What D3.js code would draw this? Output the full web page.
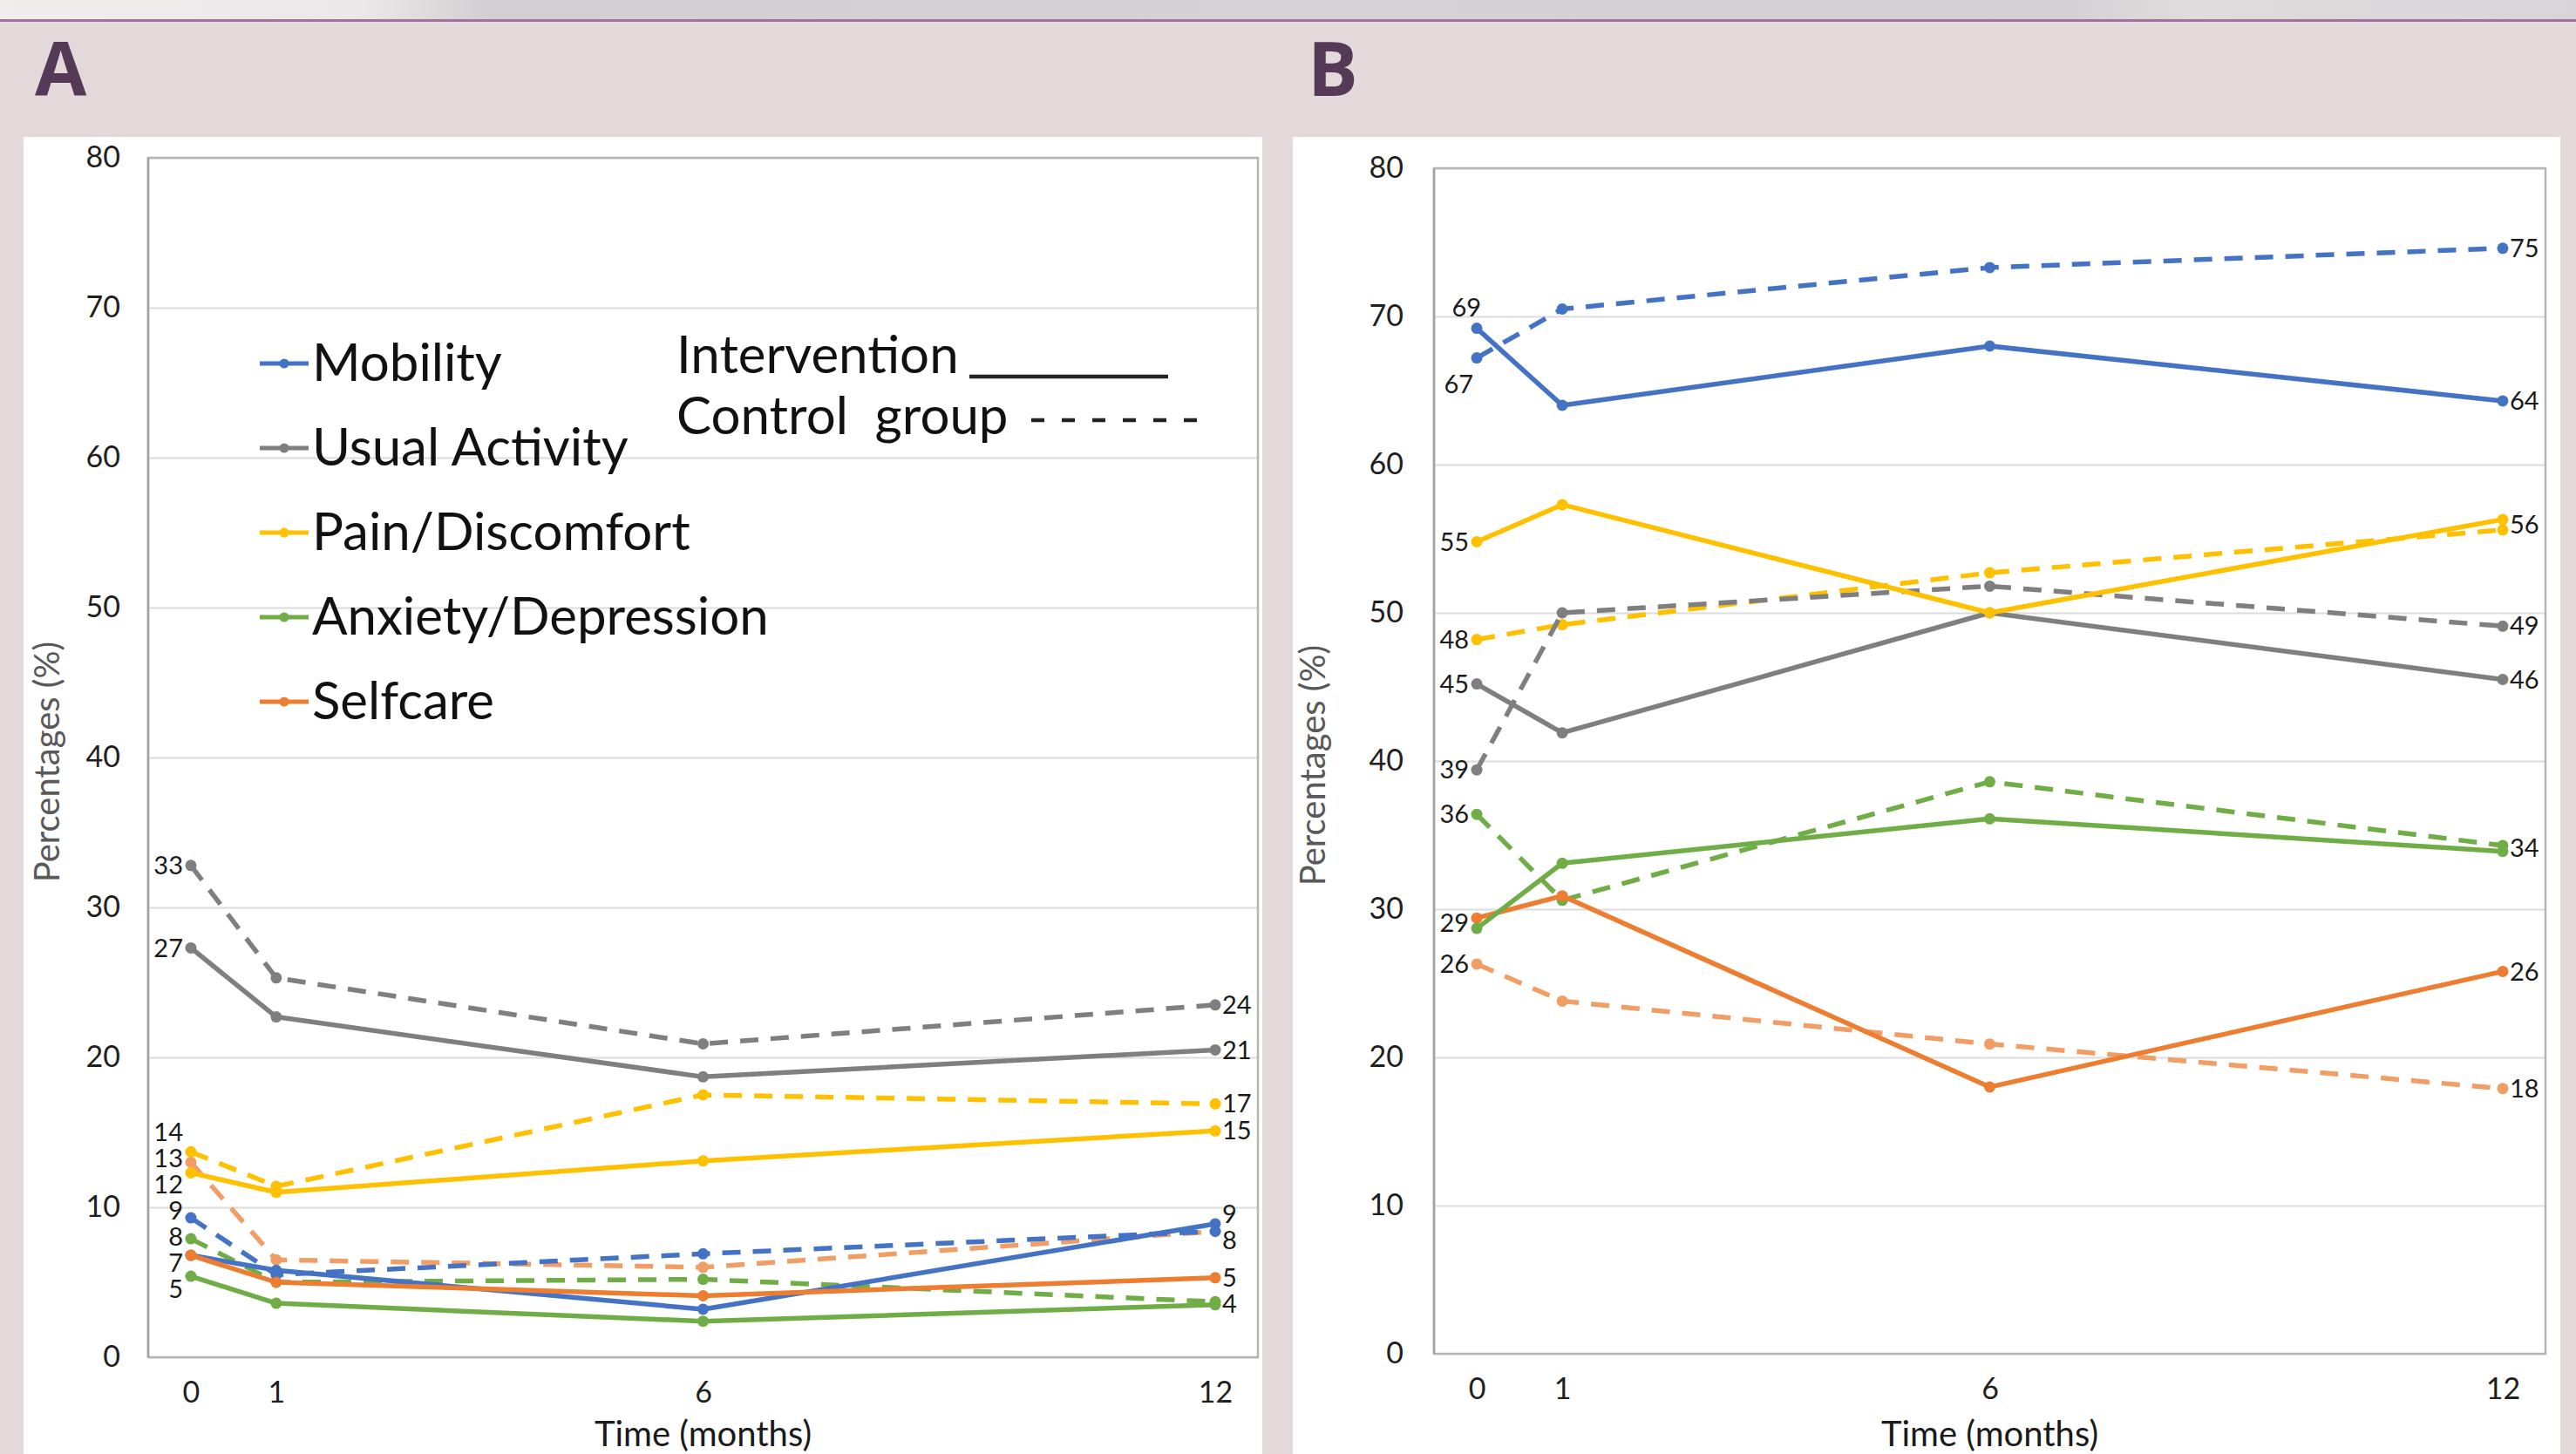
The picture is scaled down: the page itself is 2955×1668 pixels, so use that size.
<!DOCTYPE html>
<html>
<head>
<meta charset="utf-8">
<script src="https://cdn.jsdelivr.net/npm/d3@7"></script>
<style>
  html, body { margin: 0; padding: 0; background: #e3d9da; }
  svg { display: block; }
</style>
</head>
<body>
<svg id="chart" width="2955" height="1668"></svg>
<script>
// ---------------- DATA ----------------
const months = [0, 1, 6, 12];
const yTicks = [0, 10, 20, 30, 40, 50, 60, 70, 80];
const dimensions = ["Mobility", "Usual Activity", "Pain/Discomfort", "Anxiety/Depression", "Selfcare"];
const groupLabels = ["Intervention", "Control  group"];
const panelLetters = ["A", "B"];
const xTitle = "Time (months)";
const yTitle = "Percentages (%)";

// Panel A – intervention (solid) and control (dashed)
const aIntMobility = [6.8, 5.8, 3.2, 8.9];
const aCtlMobility = [9.3, 5.5, 6.9, 8.4];
const aIntUsual    = [27.3, 22.7, 18.7, 20.5];
const aCtlUsual    = [32.8, 25.3, 20.9, 23.5];
const aIntPain     = [12.3, 11.0, 13.1, 15.1];
const aCtlPain     = [13.7, 11.4, 17.5, 16.9];
const aIntAnxiety  = [5.4, 3.6, 2.4, 3.5];
const aCtlAnxiety  = [7.9, 5.0, 5.2, 3.7];
const aIntSelfcare = [6.8, 5.0, 4.1, 5.3];
const aCtlSelfcare = [13.0, 6.5, 6.0, 8.4];

// Panel B
const bIntMobility = [69.2, 64.0, 68.0, 64.3];
const bCtlMobility = [67.2, 70.5, 73.3, 74.6];
const bIntUsual    = [45.2, 41.9, 50.0, 45.5];
const bCtlUsual    = [39.4, 50.0, 51.8, 49.1];
const bIntPain     = [54.8, 57.3, 50.0, 56.3];
const bCtlPain     = [48.2, 49.2, 52.7, 55.6];
const bIntAnxiety  = [28.7, 33.1, 36.1, 33.9];
const bCtlAnxiety  = [36.4, 30.6, 38.6, 34.3];
const bIntSelfcare = [29.4, 30.9, 18.0, 25.8];
const bCtlSelfcare = [26.3, 23.8, 20.9, 17.9];

// ---------------- STYLE ----------------
const solidColors  = { "Mobility": "#4472C4", "Usual Activity": "#7F7F7F", "Pain/Discomfort": "#FFC000", "Anxiety/Depression": "#70AD47", "Selfcare": "#ED7D31" };
const dashedColors = { "Mobility": "#4472C4", "Usual Activity": "#7F7F7F", "Pain/Discomfort": "#FFC000", "Anxiety/Depression": "#70AD47", "Selfcare": "#F19E66" };
const FONT = "Lato, 'Open Sans', sans-serif";

const panelASeries = [
  { dim: "Selfcare", group: 1, values: aCtlSelfcare },
  { dim: "Anxiety/Depression", group: 1, values: aCtlAnxiety },
  { dim: "Mobility", group: 1, values: aCtlMobility },
  { dim: "Pain/Discomfort", group: 1, values: aCtlPain },
  { dim: "Usual Activity", group: 1, values: aCtlUsual },
  { dim: "Usual Activity", group: 0, values: aIntUsual },
  { dim: "Pain/Discomfort", group: 0, values: aIntPain },
  { dim: "Mobility", group: 0, values: aIntMobility },
  { dim: "Selfcare", group: 0, values: aIntSelfcare },
  { dim: "Anxiety/Depression", group: 0, values: aIntAnxiety }
];
const panelBSeries = [
  { dim: "Selfcare", group: 1, values: bCtlSelfcare },
  { dim: "Anxiety/Depression", group: 1, values: bCtlAnxiety },
  { dim: "Mobility", group: 1, values: bCtlMobility },
  { dim: "Pain/Discomfort", group: 1, values: bCtlPain },
  { dim: "Usual Activity", group: 1, values: bCtlUsual },
  { dim: "Usual Activity", group: 0, values: bIntUsual },
  { dim: "Pain/Discomfort", group: 0, values: bIntPain },
  { dim: "Mobility", group: 0, values: bIntMobility },
  { dim: "Selfcare", group: 0, values: bIntSelfcare },
  { dim: "Anxiety/Depression", group: 0, values: bIntAnxiety }
];

const svg = d3.select("#chart");

// ---------------- BACKGROUND ----------------
const defs = svg.append("defs");
const grad = defs.append("linearGradient").attr("id", "hdr").attr("x1", "0").attr("x2", "1").attr("y1", "0").attr("y2", "0");
[[0, "#f0eded"], [0.14, "#ebe8e9"], [0.19, "#d2cfd2"], [0.5, "#d6d3d6"], [0.8, "#d4d1d4"], [0.85, "#dfdcde"], [1, "#d8d5d8"]]
  .forEach(([o, c]) => grad.append("stop").attr("offset", o).attr("stop-color", c));
svg.append("rect").attr("x", 0).attr("y", 0).attr("width", 2955).attr("height", 22).attr("fill", "url(#hdr)");
svg.append("rect").attr("x", 0).attr("y", 22).attr("width", 2955).attr("height", 3).attr("fill", "#a0729f");

// ---------------- LABEL DODGE ----------------
function dodge(items, gap) {
  items.sort((a, b) => a.y - b.y);
  let groups = items.map(d => ({ items: [d] }));
  const mean = g => d3.mean(g.items, d => d.y);
  let changed = true;
  while (changed) {
    changed = false;
    for (let i = 0; i < groups.length - 1; i++) {
      const g = groups[i], h = groups[i + 1];
      const gBottom = mean(g) + (g.items.length - 1) * gap / 2;
      const hTop = mean(h) - (h.items.length - 1) * gap / 2;
      if (hTop - gBottom < gap) {
        groups.splice(i, 2, { items: g.items.concat(h.items) });
        changed = true;
        break;
      }
    }
  }
  groups.forEach(g => {
    const m = mean(g), n = g.items.length;
    g.items.forEach((d, k) => { d.ly = m + (k - (n - 1) / 2) * gap; });
  });
  return items;
}

function endLabels(series, idx, y) {
  const map = new Map();
  series.forEach(s => {
    const t = String(Math.round(s.values[idx]));
    if (!map.has(t)) map.set(t, []);
    map.get(t).push(y(s.values[idx]));
  });
  return Array.from(map, ([text, ys]) => ({ text, y: d3.mean(ys) }));
}

// ---------------- PANEL ----------------
function drawPanel(cfg) {
  const g = svg.append("g");
  g.append("rect").attr("x", cfg.card[0]).attr("y", cfg.card[1])
    .attr("width", cfg.card[2] - cfg.card[0]).attr("height", 1668 - cfg.card[1]).attr("fill", "#ffffff");
  g.append("text").attr("x", cfg.letterX).attr("y", 110).text(cfg.letter)
    .attr("font-family", "'Open Sans', Lato, sans-serif").attr("font-weight", 700)
    .attr("font-size", 86).attr("fill", "#553a58");

  const [x0, x1, yTop, yBot] = cfg.plot;
  const x = d3.scaleLinear().domain([-0.5, 12.5]).range([x0, x1]);
  const y = d3.scaleLinear().domain([0, 80]).range([yBot, yTop]);

  const grid = g.append("g").attr("transform", `translate(${x0},0)`)
    .call(d3.axisLeft(y).tickValues(yTicks).tickSize(-(x1 - x0)).tickFormat(""));
  grid.select(".domain").remove();
  grid.selectAll(".tick line").attr("stroke", "#dcdcdc").attr("stroke-width", 2);

  g.append("rect").attr("x", x0).attr("y", yTop).attr("width", x1 - x0).attr("height", yBot - yTop)
    .attr("fill", "none").attr("stroke", "#b5b5b5").attr("stroke-width", 2.5);
  g.append("line").attr("x1", x0).attr("x2", x0).attr("y1", yTop).attr("y2", yBot)
    .attr("stroke", "#a3a3a3").attr("stroke-width", 2.5);

  const ya = g.append("g").attr("transform", `translate(${x0},0)`)
    .call(d3.axisLeft(y).tickValues(yTicks).tickSize(0).tickPadding(cfg.yPad));
  ya.select(".domain").remove();
  ya.selectAll("text").attr("font-family", FONT).attr("font-size", 34).attr("fill", "#1f1f1f");

  const xa = g.append("g").attr("transform", `translate(0,${yBot})`)
    .call(d3.axisBottom(x).tickValues(months).tickSize(0).tickPadding(28));
  xa.select(".domain").remove();
  xa.selectAll("text").attr("font-family", FONT).attr("font-size", 34).attr("fill", "#1f1f1f");

  g.append("text").attr("transform", `translate(${cfg.yTitleX},${(yTop + yBot) / 2 + 5}) rotate(-90)`)
    .attr("text-anchor", "middle").attr("dominant-baseline", "middle")
    .attr("font-family", FONT).attr("font-size", 40).attr("fill", "#595959").text(yTitle);
  g.append("text").attr("x", x(6)).attr("y", 1659).attr("text-anchor", "middle")
    .attr("font-family", FONT).attr("font-size", 40).attr("fill", "#1a1a1a").text(xTitle);

  const line = d3.line().x((d, i) => x(months[i])).y(d => y(d));
  cfg.series.forEach(s => {
    const col = s.group === 0 ? solidColors[s.dim] : dashedColors[s.dim];
    g.append("path").datum(s.values).attr("d", line)
      .attr("fill", "none").attr("stroke", col).attr("stroke-width", 5.5)
      .attr("stroke-linejoin", "round")
      .attr("stroke-dasharray", s.group === 1 ? "21,14" : null);
    g.selectAll(null).data(s.values).enter().append("circle")
      .attr("cx", (d, i) => x(months[i])).attr("cy", d => y(d)).attr("r", 6.5).attr("fill", col);
  });

  const startL = dodge(endLabels(cfg.series, 0, y), 30);
  const endL = dodge(endLabels(cfg.series, 3, y), 30);
  startL.forEach(d => {
    let lx = x(0) - 9, ly = d.ly;
    const p = cfg.startPlacement && cfg.startPlacement[d.text];
    if (p === "above") { lx = x(0) + 5; ly = d.y - 24; }
    if (p === "below") { lx = x(0) - 4; ly = d.y + 30; }
    g.append("text").attr("x", lx).attr("y", ly).attr("dy", "0.35em").attr("text-anchor", "end")
      .attr("font-family", FONT).attr("font-size", 29).attr("fill", "#1a1a1a").text(d.text);
  });
  endL.forEach(d => {
    g.append("text").attr("x", x(12) + 8).attr("y", d.ly).attr("dy", "0.35em").attr("text-anchor", "start")
      .attr("font-family", FONT).attr("font-size", 29).attr("fill", "#1a1a1a").text(d.text);
  });
  return g;
}

drawPanel({
  letter: panelLetters[0], letterX: 40, card: [27, 157, 1448],
  plot: [170, 1443, 181, 1557], yPad: 32, yTitleX: 58, series: panelASeries
});
drawPanel({
  letter: panelLetters[1], letterX: 1500, card: [1483, 157, 2937],
  plot: [1645, 2920, 193, 1553], yPad: 35, yTitleX: 1510, series: panelBSeries,
  startPlacement: { "69": "above", "67": "below" }
});

// ---------------- LEGEND (panel A) ----------------
const leg = svg.append("g");
const legRowY = d3.scaleLinear().domain([0, dimensions.length - 1]).range([437, 825]);
dimensions.forEach((d, i) => {
  const by = legRowY(i);
  leg.append("line").attr("x1", 298).attr("x2", 354).attr("y1", by - 20).attr("y2", by - 20)
    .attr("stroke", solidColors[d]).attr("stroke-width", 5);
  leg.append("circle").attr("cx", 326).attr("cy", by - 20).attr("r", 5.5).attr("fill", solidColors[d]);
  leg.append("text").attr("x", 358).attr("y", by).text(d)
    .attr("font-family", FONT).attr("font-size", 60).attr("fill", "#111");
});
leg.append("text").attr("x", 776).attr("y", 428).text(groupLabels[0])
  .attr("font-family", FONT).attr("font-size", 60).attr("fill", "#111");
leg.append("line").attr("x1", 1112).attr("x2", 1340).attr("y1", 432).attr("y2", 432)
  .attr("stroke", "#222").attr("stroke-width", 4.5);
leg.append("text").attr("x", 776).attr("y", 498).text(groupLabels[1])
  .attr("font-family", FONT).attr("font-size", 60).attr("fill", "#111").style("white-space", "pre");
leg.append("line").attr("x1", 1183).attr("x2", 1373).attr("y1", 482).attr("y2", 482)
  .attr("stroke", "#222").attr("stroke-width", 4.5).attr("stroke-dasharray", "15,20");
</script>
</body>
</html>
